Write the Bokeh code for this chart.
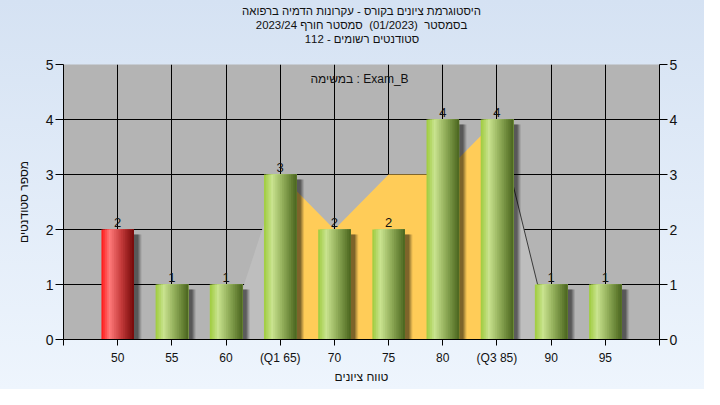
from bokeh.plotting import figure
from bokeh.models import ColumnDataSource, FixedTicker, LinearAxis, Range1d, Label, Title
from bokeh.transform import dodge
from bokeh.core.properties import value
from bokeh.embed import file_html
from bokeh.resources import INLINE

# ---------------- data ----------------
categories = ["50", "55", "60", "(Q1 65)", "70", "75", "80", "(Q3 85)", "90", "95"]
scores = [50, 55, 60, 65, 70, 75, 80, 85, 90, 95]
counts = [2, 1, 1, 3, 2, 2, 4, 4, 1, 1]
area_values = [0, 0, 0, 3, 2, 3, 3, 4, 0, 0]
q1_index = 3
q3_index = 7
passing_score = 55
y_ticks = [0, 1, 2, 3, 4, 5]

title_lines = [
    "היסטוגרמת ציונים בקורס - עקרונות הדמיה ברפואה",
    "בסמסטר\u00a0 (01/2023)\u00a0 סמסטר חורף 2023/24",
    "סטודנטים רשומים - 112",
]
task_text = "במשימה : Exam_B"
x_title = "טווח ציונים"
y_title = "מספר סטודנטים"

FONT = "Liberation Sans"

# ---------------- helpers ----------------
def hex2rgb(h):
    h = h.lstrip("#")
    return tuple(int(h[i:i + 2], 16) for i in (0, 2, 4))

def grad(stops, t):
    for (t0, c0), (t1, c1) in zip(stops[:-1], stops[1:]):
        if t0 <= t <= t1:
            f = (t - t0) / (t1 - t0) if t1 > t0 else 0
            a, b = hex2rgb(c0), hex2rgb(c1)
            return "#%02x%02x%02x" % tuple(int(round(a[k] + (b[k] - a[k]) * f)) for k in range(3))
    return stops[-1][1]

green_stops = [(0.0, "#9ecb3c"), (0.25, "#c9e38f"), (0.6, "#8eaa56"), (1.0, "#4a651e")]
red_stops = [(0.0, "#ff1515"), (0.25, "#ff7a7a"), (0.6, "#c63c3c"), (1.0, "#740808")]

xs = list(range(1, len(categories) + 1))
BAR_W = 0.6
N = 18

data = dict(x=xs, count=counts, label=[str(c) for c in counts],
            shadow_top=[c - 0.09 for c in counts])
for i in range(N):
    t = (i + 0.5) / N
    data[f"c{i}"] = [grad(red_stops if s < passing_score else green_stops, t) for s in scores]
src = ColumnDataSource(data)

# ---------------- figure ----------------
p = figure(width=704, height=389, output_backend="svg", toolbar_location=None, title=None,
           x_range=Range1d(0, len(categories) + 1), y_range=Range1d(0, 5),
           min_border_left=63, min_border_right=45, min_border_top=64, min_border_bottom=50)
p.background_fill_color = "#b4b4b4"
p.border_fill_color = None
p.styles = {"background": "linear-gradient(to bottom, #d5e2f3, #eef5fd)"}
p.outline_line_color = None

# titles: a blank spacer sits nearest the frame, then the three lines above it
p.add_layout(Title(text="\u00a0", standoff=6, text_font=FONT, text_font_size="11.4px"), "above")
for line in reversed(title_lines):
    p.add_layout(Title(text=line, align="center", offset=-7, standoff=0,
                       text_font=FONT, text_font_size="11.4px", text_font_style="normal",
                       text_color="#111111"), "above")

# grid
p.xgrid.ticker = FixedTicker(ticks=list(range(0, len(categories) + 2)))
p.ygrid.ticker = FixedTicker(ticks=y_ticks)
for g in (p.xgrid[0], p.ygrid[0]):
    g.grid_line_color = "#000000"
    g.grid_line_width = 1

# area behind bars
p.varea(x=xs[q1_index - 1:q1_index + 1], y1=0, y2=area_values[q1_index - 1:q1_index + 1],
        fill_color="#bebebe")
p.varea(x=xs[q3_index:q3_index + 2], y1=0, y2=area_values[q3_index:q3_index + 2],
        fill_color="#bebebe")
p.varea(x=xs[q1_index:q3_index + 1], y1=0, y2=area_values[q1_index:q3_index + 1],
        fill_color="#ffcc58")
p.line(x=xs[q3_index:q3_index + 2], y=area_values[q3_index:q3_index + 2],
       line_color="#3a3a3a", line_width=1)

# shadows
for dx, alpha in [(0.14, 0.10), (0.12, 0.14), (0.10, 0.18), (0.08, 0.22)]:
    p.vbar(x=dodge("x", dx), top="shadow_top", bottom=0, width=BAR_W, source=src,
           fill_color="#000000", fill_alpha=alpha, line_color=None)

# bars with horizontal gradient: each strip reaches to the bar's right edge
sw = BAR_W / N
for i in range(N):
    left = -BAR_W / 2 + i * sw
    right = BAR_W / 2
    p.vbar(x=dodge("x", (left + right) / 2), top="count", bottom=0, width=right - left,
           source=src, fill_color=f"c{i}", line_color=None)

# count labels
p.text(x="x", y="count", text="label", source=src, y_offset=-7,
       text_align="center", text_baseline="alphabetic", text_font=value(FONT),
       text_font_size="13px", text_color="#111111")

# axes
def style_y(ax):
    ax.ticker = FixedTicker(ticks=y_ticks)
    ax.major_tick_out = 8
    ax.major_tick_in = 0
    ax.minor_tick_line_color = None
    ax.major_label_standoff = 2
    ax.major_label_text_font = FONT
    ax.major_label_text_font_size = "14px"
    ax.major_label_text_color = "#111111"
    ax.axis_line_color = "#000000"
    ax.major_tick_line_color = "#000000"

yl = p.yaxis[0]
style_y(yl)
yl.axis_label = y_title
yl.axis_label_standoff = 12
yl.axis_label_text_font = FONT
yl.axis_label_text_font_size = "12px"
yl.axis_label_text_font_style = "normal"
yl.axis_label_text_color = "#111111"

yr = LinearAxis()
style_y(yr)
p.add_layout(yr, "right")

xa = p.xaxis[0]
xa.ticker = FixedTicker(ticks=list(range(0, len(categories) + 2)))
overrides = {0: "", len(categories) + 1: ""}
for xi, c in zip(xs, categories):
    overrides[xi] = c
xa.major_label_overrides = overrides
xa.major_tick_out = 6
xa.major_tick_in = 0
xa.minor_tick_line_color = None
xa.major_label_standoff = 5
xa.major_label_text_font = FONT
xa.major_label_text_font_size = "12px"
xa.major_label_text_color = "#111111"
xa.axis_line_color = "#000000"
xa.axis_label = x_title
xa.axis_label_standoff = 2
xa.axis_label_text_font = FONT
xa.axis_label_text_font_size = "12px"
xa.axis_label_text_font_style = "normal"
xa.axis_label_text_color = "#111111"

p.add_layout(Label(x=296, y=347 - 86, x_units="screen", y_units="screen",
                   text=task_text, text_align="center", text_baseline="middle",
                   text_font=FONT, text_font_size="12px", text_color="#111111"))

open("out.html", "w").write(file_html(p, INLINE))
